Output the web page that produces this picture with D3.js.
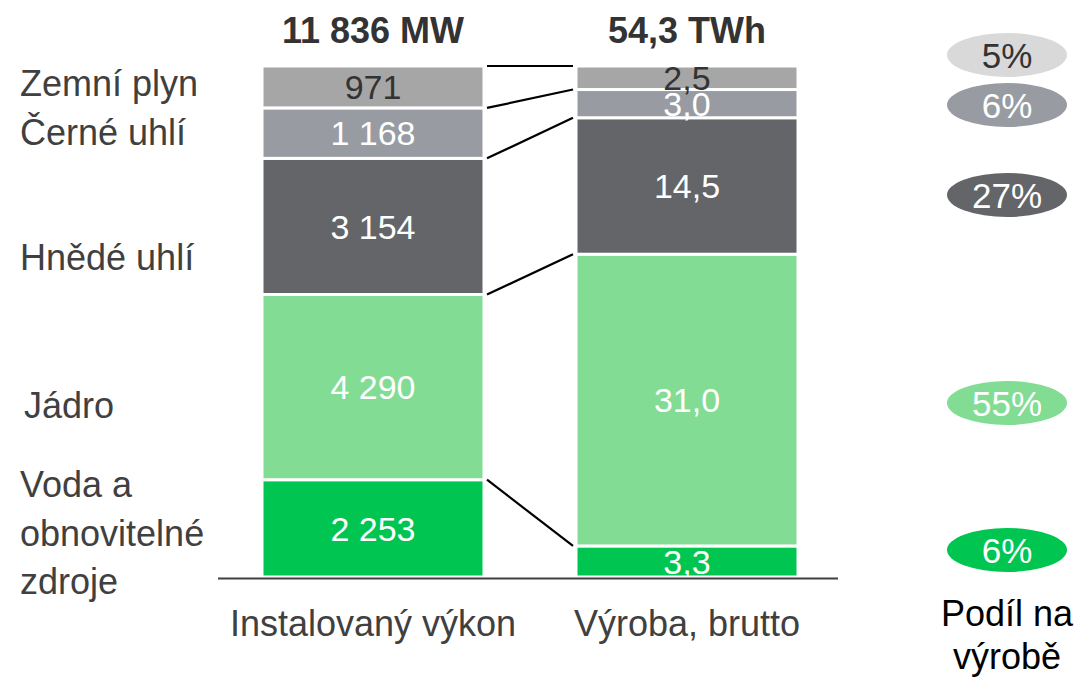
<!DOCTYPE html>
<html>
<head>
<meta charset="utf-8">
<script src="https://cdn.jsdelivr.net/npm/d3@7.9.0/dist/d3.min.js"></script>
<style>
  body { margin: 0; background: #fff; }
  svg { font-family: "Liberation Sans", Arial, sans-serif; }
</style>
</head>
<body>
<svg id="chart" width="1081" height="677"></svg>
<script>
// data, stacked bottom -> top
const sources = ['Voda a obnovitelné zdroje', 'Jádro', 'Hnědé uhlí', 'Černé uhlí', 'Zemní plyn'];
const capacityMW = [2253, 4290, 3154, 1168, 971];
const capacityLabels = ['2 253', '4 290', '3 154', '1 168', '971'];
const productionTWh = [3.3, 31.0, 14.5, 3.0, 2.5];
const productionLabels = ['3,3', '31,0', '14,5', '3,0', '2,5'];
const shareLabels = ['6%', '55%', '27%', '6%', '5%'];
const columns = ['Instalovaný výkon', 'Výroba, brutto'];
const totals = ['11 836 MW', '54,3 TWh'];

const colors = ['#00c550', '#82dc94', '#636569', '#989ca2', '#a6a6a6'];
const pillColors = ['#00c550', '#82dc94', '#636569', '#989ca2', '#d9d9d9'];
const textColors = ['#fff', '#fff', '#fff', '#fff', '#333'];
const pillText = ['#fff', '#fff', '#fff', '#fff', '#333'];

// layout
const baseY = 577, topY = 66;
const catLabelY = [[484, 533, 581], [405], [257], [132], [83]];
const catLabelX = [20, 24, 20, 20, 20];
const pillY = [550, 403, 195, 105, 55];
const pillX = 1007;

const svg = d3.select('#chart');

const x = d3.scaleBand().domain(columns).range([262, 798]).paddingInner(0.293);
const y = d3.scaleLinear().domain([0, 1]).range([baseY, topY]);

function stackOf(vals) {
  const total = d3.sum(vals);
  let acc = 0;
  return vals.map(v => { const s = acc; acc += v; return { y0: s / total, y1: acc / total }; });
}

const series = [
  { col: columns[0], st: stackOf(capacityMW), labels: capacityLabels },
  { col: columns[1], st: stackOf(productionTWh), labels: productionLabels }
];

series.forEach(s => {
  const g = svg.append('g');
  g.selectAll('rect').data(s.st).join('rect')
    .attr('x', x(s.col))
    .attr('width', x.bandwidth())
    .attr('y', d => y(d.y1))
    .attr('height', d => y(d.y0) - y(d.y1))
    .attr('fill', (d, i) => colors[i])
    .attr('stroke', '#fff')
    .attr('stroke-width', 3);

  g.selectAll('text').data(s.st).join('text')
    .attr('x', x(s.col) + x.bandwidth() / 2)
    .attr('y', d => (y(d.y0) + y(d.y1)) / 2)
    .attr('dy', '0.36em')
    .attr('text-anchor', 'middle')
    .attr('font-size', 34)
    .attr('fill', (d, i) => textColors[i])
    .text((d, i) => s.labels[i]);
});

// connector lines between the two columns
const xl = x(columns[0]) + x.bandwidth() + 3;
const xr = x(columns[1]) - 3;
svg.append('g').selectAll('line').data(d3.range(sources.length)).join('line')
  .attr('x1', xl)
  .attr('x2', xr)
  .attr('y1', i => y(series[0].st[i].y1))
  .attr('y2', i => y(series[1].st[i].y1))
  .attr('stroke', '#000')
  .attr('stroke-width', 2.2);

// baseline
svg.append('line')
  .attr('x1', 218).attr('x2', 838)
  .attr('y1', baseY + 1.5).attr('y2', baseY + 1.5)
  .attr('stroke', '#404040').attr('stroke-width', 2);

// totals
svg.selectAll('.total').data(columns).join('text')
  .attr('x', d => x(d) + x.bandwidth() / 2)
  .attr('y', 43)
  .attr('text-anchor', 'middle')
  .attr('font-size', 36)
  .attr('font-weight', 'bold')
  .attr('fill', '#333')
  .text((d, i) => totals[i]);

// column labels
svg.selectAll('.col').data(columns).join('text')
  .attr('x', d => x(d) + x.bandwidth() / 2)
  .attr('y', 636)
  .attr('text-anchor', 'middle')
  .attr('font-size', 36)
  .attr('fill', '#404040')
  .text(d => d);

// category labels on the left
const catWords = [['Voda a', 'obnovitelné', 'zdroje'], ['Jádro'], ['Hnědé uhlí'], ['Černé uhlí'], ['Zemní plyn']];
catWords.forEach((lines, i) => {
  lines.forEach((t, j) => {
    svg.append('text')
      .attr('x', catLabelX[i])
      .attr('y', catLabelY[i][j])
      .attr('dy', '0.36em')
      .attr('font-size', 36)
      .attr('fill', '#404040')
      .text(t);
  });
});

// share pills
const pills = svg.append('g').selectAll('g').data(shareLabels).join('g')
  .attr('transform', (d, i) => `translate(${pillX},${pillY[i]})`);
pills.append('ellipse')
  .attr('rx', 60).attr('ry', 22)
  .attr('fill', (d, i) => pillColors[i]);
pills.append('text')
  .attr('text-anchor', 'middle')
  .attr('dy', '0.36em')
  .attr('font-size', 35)
  .attr('fill', (d, i) => pillText[i])
  .text(d => d);

svg.append('text').attr('x', pillX).attr('y', 613).attr('dy', '0.36em')
  .attr('text-anchor', 'middle').attr('font-size', 36).attr('fill', '#000').text('Podíl na');
svg.append('text').attr('x', pillX).attr('y', 656).attr('dy', '0.36em')
  .attr('text-anchor', 'middle').attr('font-size', 36).attr('fill', '#000').text('výrobě');
</script>
</body>
</html>
